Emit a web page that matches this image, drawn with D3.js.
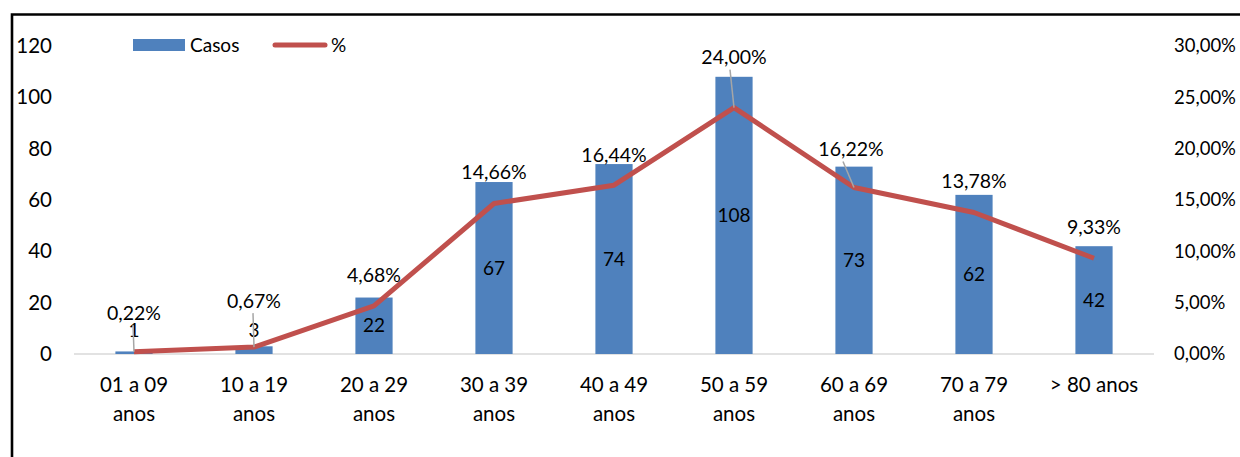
<!DOCTYPE html>
<html>
<head>
<meta charset="utf-8">
<script src="https://cdn.jsdelivr.net/npm/d3@7"></script>
<style>
  body { margin: 0; background: #fff; }
  svg { display: block; font-family: Lato, "Liberation Sans", sans-serif; }
</style>
</head>
<body>
<svg width="1240" height="457"></svg>
<script>
(function () {
  var categories = ["01 a 09 anos", "10 a 19 anos", "20 a 29 anos", "30 a 39 anos",
    "40 a 49 anos", "50 a 59 anos", "60 a 69 anos", "70 a 79 anos", "> 80 anos"];
  var casos = [1, 3, 22, 67, 74, 108, 73, 62, 42];
  var percent = [0.22, 0.67, 4.68, 14.66, 16.44, 24.00, 16.22, 13.78, 9.33];
  var leftTicks = [0, 20, 40, 60, 80, 100, 120];
  var rightTicks = [0, 5, 10, 15, 20, 25, 30];

  // how far some % labels were dragged up (px), with a leader line
  var labelLift = [39, 46, 31, 31, 30, 50, 38, 31, 31];
  var hasLeader = [true, true, false, false, false, true, true, false, false];

  var svg = d3.select('svg');
  var fmt = function (v) { return v.toFixed(2).replace('.', ',') + '%'; };

  var x = d3.scaleBand().domain(categories).range([74, 1154])
    .paddingInner(0.69).paddingOuter(0.345);
  var y = d3.scaleLinear().domain([0, 120]).range([354, 46]);
  var y2 = d3.scaleLinear().domain([0, 30]).range([354, 46]);
  var cx = function (i) { return x(categories[i]) + x.bandwidth() / 2; };

  // outer frame
  svg.append('path')
    .attr('d', 'M12,460 L12,14.5 L1245,14.5')
    .attr('fill', 'none').attr('stroke', '#000').attr('stroke-width', 2.6);

  // left axis
  var ax = svg.append('g').attr('transform', 'translate(52,0)')
    .call(d3.axisLeft(y).tickValues(leftTicks).tickSize(0).tickPadding(0));
  ax.select('.domain').remove();
  ax.selectAll('text').attr('font-size', 20.5).attr('font-family', 'Lato').attr('fill', '#000');

  // right axis
  var ar = svg.append('g').attr('transform', 'translate(1174,0)')
    .call(d3.axisRight(y2).tickValues(rightTicks).tickSize(0).tickPadding(0)
      .tickFormat(function (d) { return d.toFixed(2).replace('.', ',') + '%'; }));
  ar.select('.domain').remove();
  ar.selectAll('text').attr('font-size', 18.5).attr('font-family', 'Lato').attr('fill', '#000');

  // baseline
  svg.append('line')
    .attr('x1', 74).attr('x2', 1154).attr('y1', y(0)).attr('y2', y(0))
    .attr('stroke', '#d9d9d9').attr('stroke-width', 1.5);

  // bars
  svg.append('g').selectAll('rect').data(casos).enter().append('rect')
    .attr('x', function (d, i) { return x(categories[i]); })
    .attr('width', x.bandwidth())
    .attr('y', function (d) { return y(d); })
    .attr('height', function (d) { return y(0) - y(d); })
    .attr('fill', '#4f81bd');

  // category labels, wrapped
  var cat = svg.append('g').selectAll('text').data(categories).enter().append('text')
    .attr('text-anchor', 'middle')
    .attr('font-size', 20.5)
    .attr('fill', '#000')
    .attr('y', 392);
  cat.each(function (d, i) {
    var t = d3.select(this);
    var words = d.split(' ');
    var lines = [], line = [];
    words.forEach(function (w) {
      line.push(w);
      t.text(line.join(' '));
      if (this.getComputedTextLength() > 105 && line.length > 1) {
        line.pop();
        lines.push(line.join(' '));
        line = [w];
      }
    }, this);
    lines.push(line.join(' '));
    t.text(null);
    lines.forEach(function (l, k) {
      t.append('tspan').attr('x', cx(i)).attr('dy', k ? 29 : 0).text(l);
    });
  });

  // line
  var line = d3.line()
    .x(function (d, i) { return cx(i); })
    .y(function (d) { return y2(d); });
  svg.append('path').datum(percent)
    .attr('d', line)
    .attr('fill', 'none')
    .attr('stroke', '#c0504d')
    .attr('stroke-width', 5)
    .attr('stroke-linejoin', 'round');

  // bar value labels
  svg.append('g').selectAll('text').data(casos).enter().append('text')
    .attr('x', function (d, i) { return cx(i); })
    .attr('y', function (d) { return Math.min((y(d) + y(0)) / 2, y(0) - 24); })
    .attr('dy', '0.35em')
    .attr('text-anchor', 'middle')
    .attr('font-size', 19)
    .attr('fill', '#000')
    .text(function (d) { return d; });

  // leader lines
  svg.append('g').selectAll('line').data(percent).enter()
    .filter(function (d, i) { return hasLeader[i]; })
    .append('line')
    .attr('x1', function (d) { var i = percent.indexOf(d); return cx(i) - (i === 6 ? 11 : i === 5 ? 4 : 1); })
    .attr('y1', function (d) { var i = percent.indexOf(d); return y2(d) - labelLift[i] + 12; })
    .attr('x2', function (d) { return cx(percent.indexOf(d)); })
    .attr('y2', function (d) { return y2(d); })
    .attr('stroke', '#a6a6a6').attr('stroke-width', 1.5);

  // percent labels
  svg.append('g').selectAll('text').data(percent).enter().append('text')
    .attr('x', function (d, i) { return cx(i) - (i === 6 ? 3 : 0); })
    .attr('y', function (d, i) { return y2(d) - labelLift[i]; })
    .attr('dy', '0.35em')
    .attr('text-anchor', 'middle')
    .attr('font-size', 19.5)
    .attr('fill', '#000')
    .text(function (d) { return fmt(d); });

  // legend
  var lg = svg.append('g');
  lg.append('rect').attr('x', 133).attr('y', 39).attr('width', 52).attr('height', 12).attr('fill', '#4f81bd');
  lg.append('text').attr('x', 190).attr('y', 45).attr('dy', '0.35em').attr('font-size', 19).text('Casos');
  lg.append('line').attr('x1', 275).attr('x2', 325).attr('y1', 45).attr('y2', 45)
    .attr('stroke', '#c0504d').attr('stroke-width', 5).attr('stroke-linecap', 'round');
  lg.append('text').attr('x', 331).attr('y', 45).attr('dy', '0.35em').attr('font-size', 19).text('%');
})();
</script>
</body>
</html>
